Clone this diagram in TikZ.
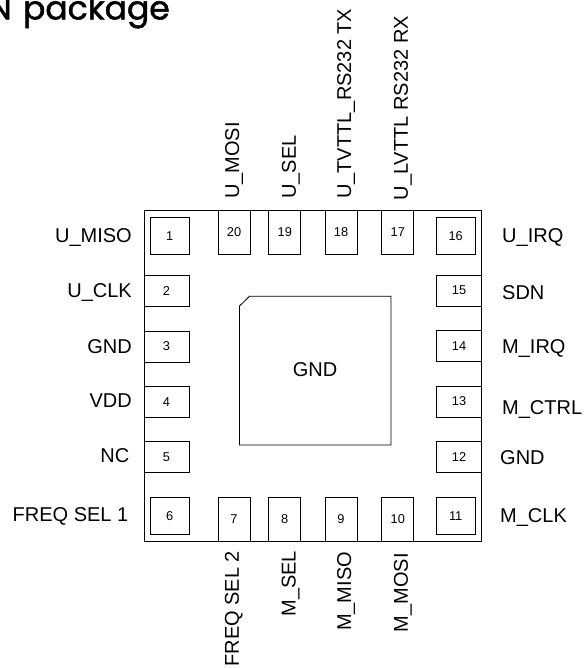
\documentclass[tikz,border=0pt]{standalone}
\usepackage{fontspec}
\setmainfont{Liberation Sans}
\newfontfamily\titlefont[FakeBold=1.5,WordSpace=1.3]{Poppins}
\tikzset{
    pad/.style={draw,line width=0.8pt,inner sep=0pt,font=\fontsize{12.8}{14}\selectfont},
    cornerpad/.style={pad,minimum width=38.5pt,minimum height=37.7pt},
    sidepad/.style={pad,minimum width=45pt,minimum height=31pt},
    endpad/.style={pad,minimum width=32pt,minimum height=43.5pt},
    pinname/.style={inner sep=0pt,font=\fontsize{20}{22}\selectfont},
    pinleft/.style={pinname,anchor=base east},
    pinright/.style={pinname,anchor=base west},
    pinup/.style={pinname,rotate=90,anchor=base west},
    pindown/.style={pinname,rotate=90,anchor=base east}
}
\begin{document}
\begin{tikzpicture}[x=1pt,y=-1pt]
    \useasboundingbox (0,0) rectangle (584,668);
    \node[anchor=base east,inner sep=0pt,font=\titlefont\fontsize{33}{36}\selectfont] (title) at (170,19.5) {N package};
    \node[draw,line width=0.8pt,minimum width=337.5pt,minimum height=330.5pt] (body) at (312.75,375.75) {};
    \draw[line width=0.8pt] (239.5,306) -- (249.5,296.3) -- (391,296.3) -- (391,445) -- (239.5,445) -- cycle;
    \node[pinname] (gnd center) at (315,370) {GND};
    \node[cornerpad] (p1) at (169.75,235.75) {1};
    \node[sidepad] (p2) at (166.5,291) {2};
    \node[sidepad] (p3) at (166.5,346.5) {3};
    \node[sidepad] (p4) at (166.5,401.8) {4};
    \node[sidepad] (p5) at (166.5,457.2) {5};
    \node[cornerpad] (p6) at (169.75,515.85) {6};
    \node[endpad] (p7) at (234,519.25) {7};
    \node[endpad] (p8) at (284.75,519.25) {8};
    \node[endpad] (p9) at (341,519.25) {9};
    \node[endpad] (p10) at (397.85,519.25) {10};
    \node[cornerpad] (p11) at (455.65,515.85) {11};
    \node[sidepad] (p12) at (459,456.8) {12};
    \node[sidepad] (p13) at (459,401.5) {13};
    \node[sidepad] (p14) at (459,346.1) {14};
    \node[sidepad] (p15) at (459,290.5) {15};
    \node[cornerpad] (p16) at (455.65,235.75) {16};
    \node[endpad] (p17) at (397.85,232.25) {17};
    \node[endpad] (p18) at (341,232.25) {18};
    \node[endpad] (p19) at (284.75,232.25) {19};
    \node[endpad] (p20) at (234,232.25) {20};
    \node[pinleft] (umiso) at (132,242.2) {U\_MISO};
    \node[pinleft] (uclk) at (132,297.2) {U\_CLK};
    \node[pinleft] (gnd left) at (132,353.2) {GND};
    \node[pinleft] (vdd) at (132,407.2) {VDD};
    \node[pinleft] (nc) at (129.5,462.2) {NC};
    \node[pinleft] (freq one) at (128.5,521.2) {FREQ SEL 1};
    \node[pinright] (uirq) at (502,242.2) {U\_IRQ};
    \node[pinright] (sdn) at (502,299.2) {SDN};
    \node[pinright] (mirq) at (502,353.2) {M\_IRQ};
    \node[pinright] (mctrl) at (502,414.2) {M\_CTRL};
    \node[pinright] (gnd right) at (500,464.9) {GND};
    \node[pinright] (mclk) at (500,522.2) {M\_CLK};
    \node[pinup] (umosi) at (239.2,199) {U\_MOSI};
    \node[pinup] (usel) at (295.9,199) {U\_SEL};
    \node[pinup] (utx) at (351.2,199) {U\_TVTTL\_RS232 TX};
    \node[pinup] (urx) at (407.9,200.5) {U\_LVTTL RS232 RX};
    \node[pindown] (freq two) at (238.9,550.7) {FREQ SEL 2};
    \node[pindown] (msel) at (295.5,550.7) {M\_SEL};
    \node[pindown] (mmiso) at (351.2,551.7) {M\_MISO};
    \node[pindown] (mmosi) at (407.9,553) {M\_MOSI};
\end{tikzpicture}
\end{document}
